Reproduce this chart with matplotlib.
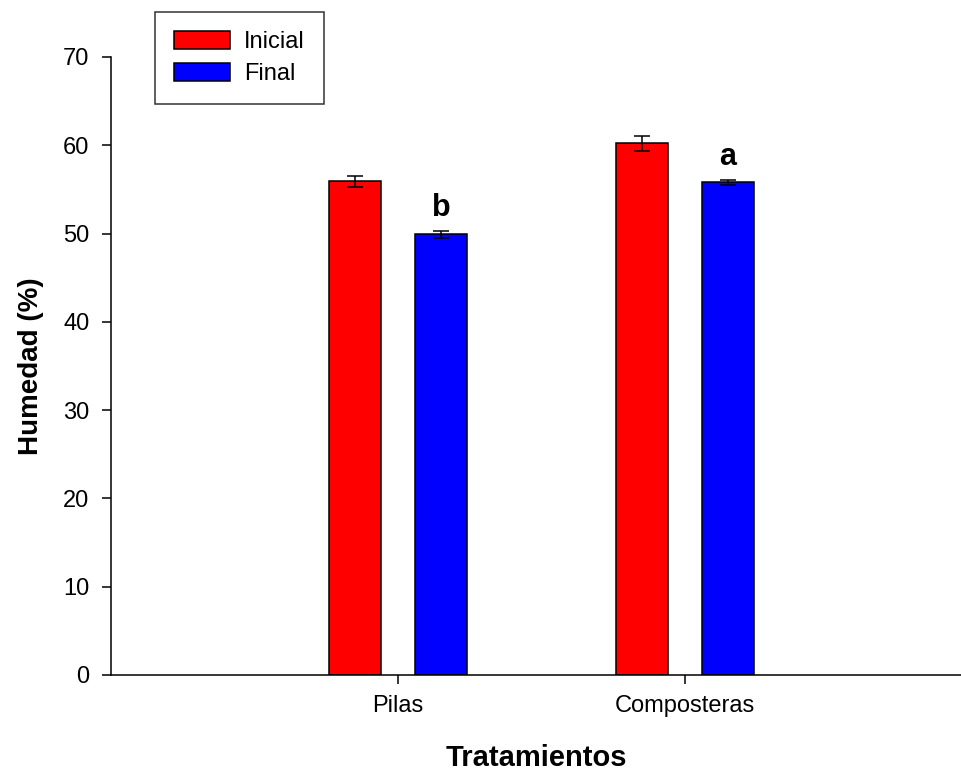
import numpy as np
import matplotlib.pyplot as plt

plt.rcParams['font.family'] = ['Liberation Sans', 'DejaVu Sans']

tratamientos = ['Pilas', 'Composteras']
inicial = [55.9, 60.2]
inicial_err = [0.6, 0.85]
final = [49.9, 55.8]
final_err = [0.4, 0.3]
letras = ['b', 'a']

x = np.arange(1, len(tratamientos) + 1)
width = 0.18
off = 0.15

fig = plt.figure(figsize=(9.62, 7.73), dpi=100)
ax = fig.add_axes([0.1154, 0.1268, 0.8846, 0.7995])

err_kw = dict(ecolor='black', capsize=6, elinewidth=1.1, capthick=1.1)
b1 = ax.bar(x - off, inicial, width, yerr=inicial_err, color='#ff0000',
            edgecolor='black', linewidth=1.1, error_kw=err_kw, label='Inicial')
b2 = ax.bar(x + off, final, width, yerr=final_err, color='#0000ff',
            edgecolor='black', linewidth=1.1, error_kw=err_kw, label='Final')

for xi, v, e, t in zip(x + off, final, final_err, letras):
    ax.text(xi, v + e + 0.9, t, ha='center', va='bottom',
            fontsize=22, fontweight='bold')

ax.set_xlim(0, 2.965)
ax.set_ylim(0, 70)
ax.set_yticks(np.arange(0, 71, 10))
ax.set_xticks(x)
ax.set_xticklabels(tratamientos)
ax.tick_params(axis='both', direction='out', length=6.5, width=1.1,
               labelsize=17)
ax.tick_params(axis='y', pad=9)
ax.tick_params(axis='x', pad=8)
for s in ['top', 'right']:
    ax.spines[s].set_visible(False)
for s in ['left', 'bottom']:
    ax.spines[s].set_linewidth(1.1)

ax.set_ylabel('Humedad (%)', fontsize=20, fontweight='bold', labelpad=14)
ax.set_xlabel('Tratamientos', fontsize=21, fontweight='bold', labelpad=19)

leg = fig.legend(handles=[b1, b2], loc='upper left',
                 bbox_to_anchor=(155 / 962, 1 - 12 / 773),
                 fontsize=17, handlelength=2.37, handleheight=0.8,
                 borderpad=0.8, labelspacing=0.4, handletextpad=0.6,
                 borderaxespad=0, fancybox=False)
leg.get_frame().set_edgecolor('black')
leg.get_frame().set_linewidth(1.1)

fig.savefig('out.png', dpi=100)
